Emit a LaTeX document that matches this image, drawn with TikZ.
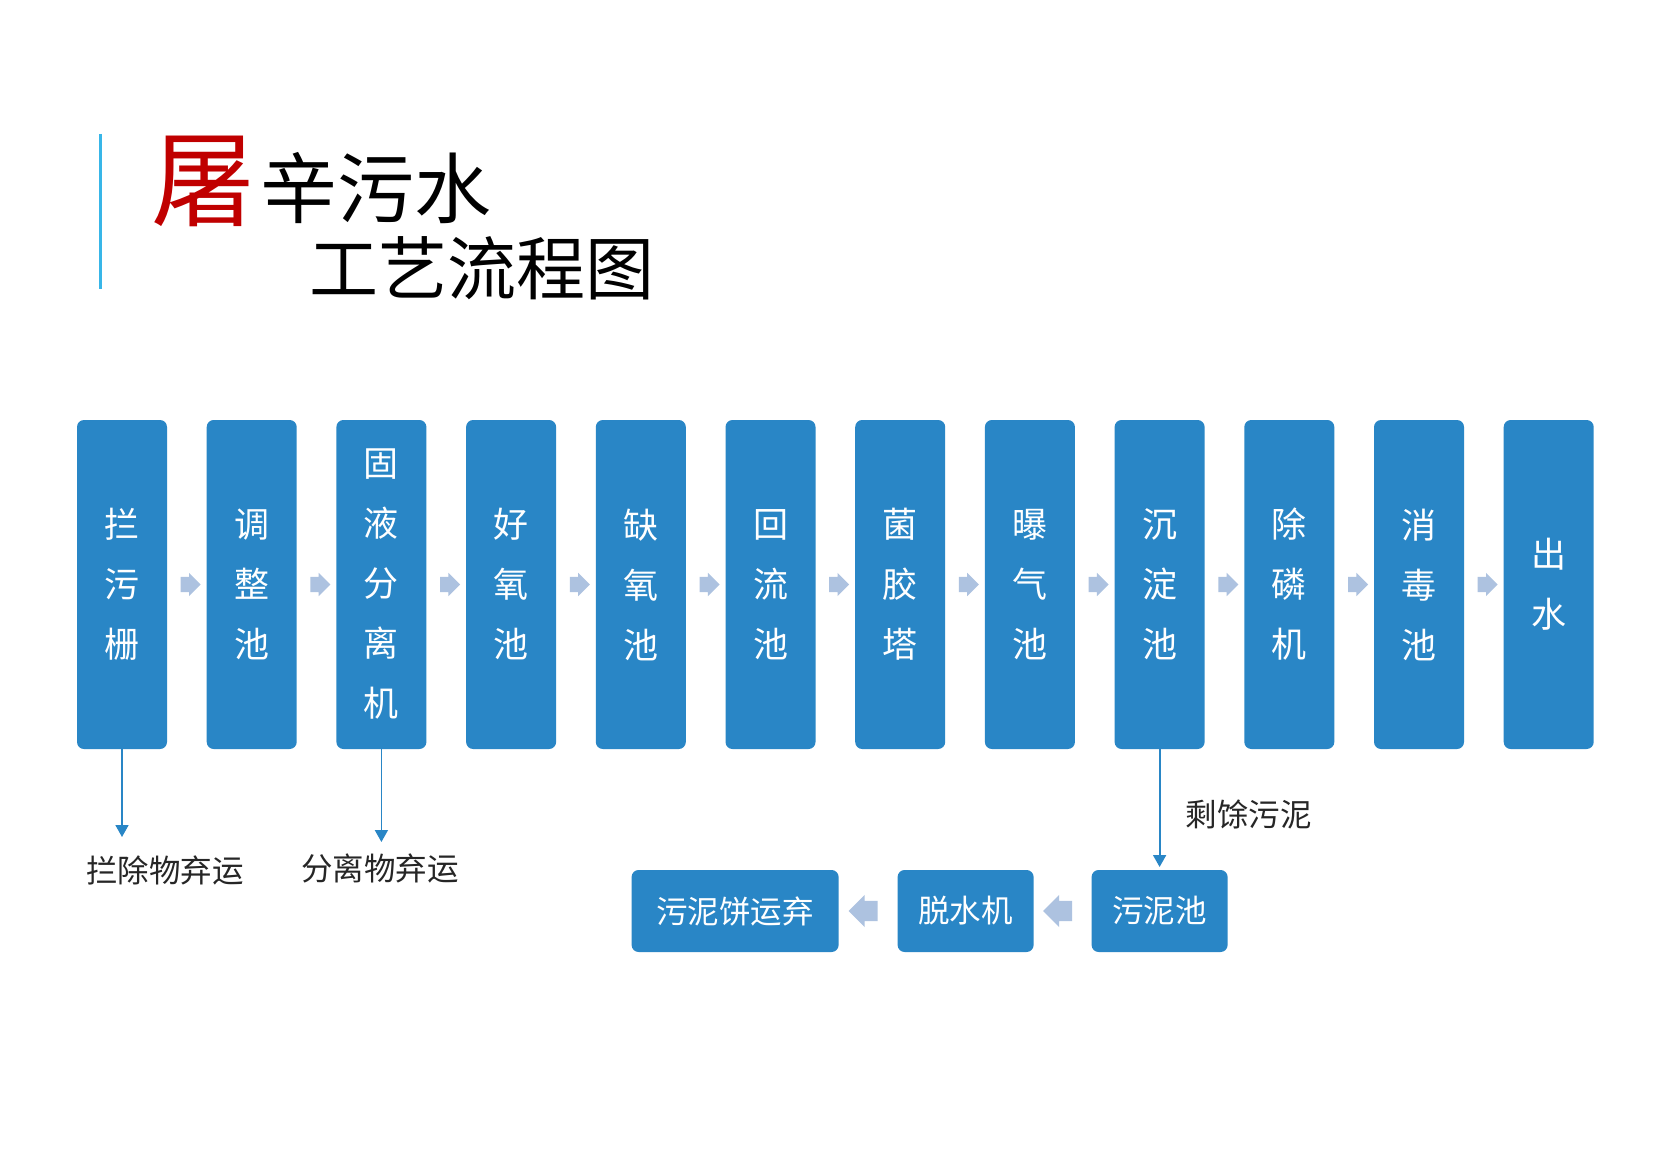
\documentclass[tikz,border=0pt]{standalone}
\usepackage{fontspec}
\setmainfont{Noto Sans CJK SC}
\usetikzlibrary{positioning, arrows.meta, shapes.arrows}

\definecolor{boxblue}{RGB}{41,134,198}
\definecolor{arrowgray}{RGB}{173,194,224}
\definecolor{titlered}{RGB}{192,0,0}
\definecolor{barcyan}{RGB}{56,182,232}

\tikzset{
	stage/.style={rectangle, rounded corners=7pt, fill=boxblue, text=white, minimum width=90pt, minimum height=329pt, inner sep=0pt, outer sep=0pt, align=center, font=\fontsize{35}{60}\selectfont},
	sludge/.style={rectangle, rounded corners=7pt, fill=boxblue, text=white, minimum width=136pt, minimum height=82pt, inner sep=0pt, outer sep=0pt, font=\fontsize{31.5}{36}\selectfont},
	rarrow/.style={single arrow, fill=arrowgray, inner sep=0pt, text height=7.5pt, text depth=7.5pt, minimum height=20pt, minimum width=23pt, single arrow head extend=4pt},
	larrow/.style={rarrow, shape border rotate=180, text height=10pt, text depth=10pt, minimum height=29pt, minimum width=32pt, single arrow head extend=6pt},
	outflow/.style={draw=boxblue, line width=1.8pt, -{Triangle[width=13pt,length=12pt]}},
	note/.style={font=\fontsize{31.5}{36}\selectfont, text=black!85}
}

\begin{document}
\begin{tikzpicture}[x=1pt, y=-1pt]
	\useasboundingbox[fill=white] (0,0) rectangle (1671,1153);

	% title
	\draw[barcyan, line width=3pt] (100,134) -- (100,289);
	\node[text=titlered, font=\fontsize{104}{110}\selectfont] (t1) at (203,181) {屠};
	\node[font=\fontsize{77}{80}\selectfont] (t2) at (376,188) {辛污水};
	\node[font=\fontsize{69}{72}\selectfont] (t3) at (481.5,268.5) {工艺流程图};

	% main line
	\node[stage] (s1) at (122,584.5) {拦\\污\\栅};
	\node[stage, right=39.7pt of s1] (s2) {调\\整\\池};
	\node[stage, right=39.7pt of s2] (s3) {固\\液\\分\\离\\机};
	\node[stage, right=39.7pt of s3] (s4) {好\\氧\\池};
	\node[stage, right=39.7pt of s4] (s5) {缺\\氧\\池};
	\node[stage, right=39.7pt of s5] (s6) {回\\流\\池};
	\node[stage, right=39.7pt of s6] (s7) {菌\\胶\\塔};
	\node[stage, right=39.7pt of s7] (s8) {曝\\气\\池};
	\node[stage, right=39.7pt of s8] (s9) {沉\\淀\\池};
	\node[stage, right=39.7pt of s9] (s10) {除\\磷\\机};
	\node[stage, right=39.7pt of s10] (s11) {消\\毒\\池};
	\node[stage, right=39.7pt of s11] (s12) {出\\水};

	\path
		(s1) -- node[rarrow]{} (s2)
		(s2) -- node[rarrow]{} (s3)
		(s3) -- node[rarrow]{} (s4)
		(s4) -- node[rarrow]{} (s5)
		(s5) -- node[rarrow]{} (s6)
		(s6) -- node[rarrow]{} (s7)
		(s7) -- node[rarrow]{} (s8)
		(s8) -- node[rarrow]{} (s9)
		(s9) -- node[rarrow]{} (s10)
		(s10) -- node[rarrow]{} (s11)
		(s11) -- node[rarrow]{} (s12)
		;

	% sludge line
	\node[sludge] (d1) at (1159.6,911) {污泥池};
	\node[sludge, left=58pt of d1] (d2) {脱水机};
	\node[sludge, left=59pt of d2, minimum width=207pt] (d3) {污泥饼运弃};

	\path
		(d1) -- node[larrow]{} (d2)
		(d2) -- node[larrow]{} (d3)
		;

	% discharges
	\coordinate[below=88pt of s1.south] (e1);
	\coordinate[below=93pt of s3.south] (e3);
	\draw[outflow] (s1.south) -- (e1);
	\draw[outflow] (s3.south) -- (e3);
	\draw[outflow, shorten >=3pt] (s9.south) -- (s9.south |- d1.north);

	\node[note] (n1) at (165,870) {拦除物弃运};
	\node[note] (n3) at (380,868) {分离物弃运};
	\node[note] (n9) at (1248.5,814) {剩馀污泥};
\end{tikzpicture}
\end{document}
